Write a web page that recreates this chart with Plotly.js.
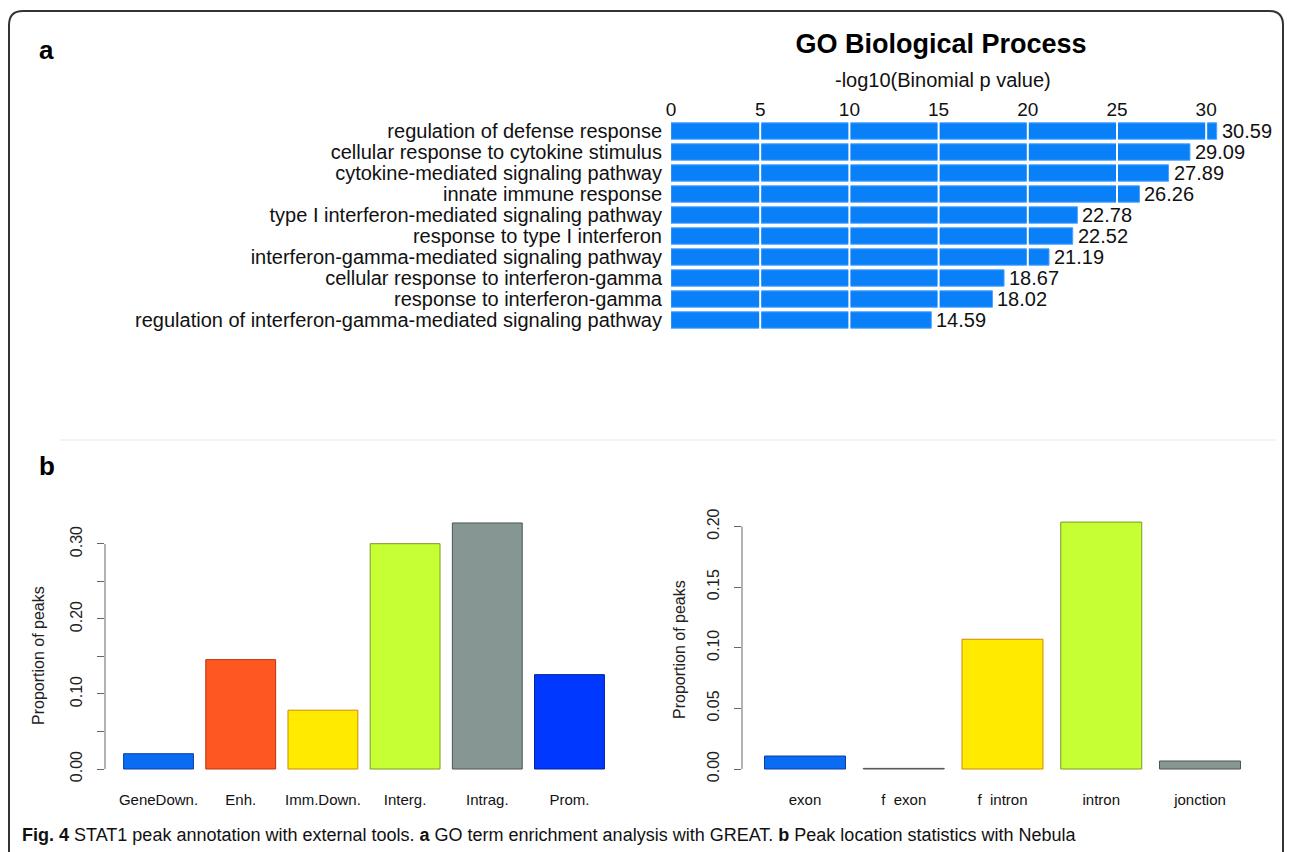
<!DOCTYPE html>
<html>
<head>
<meta charset="utf-8">
<script src="https://cdn.plot.ly/plotly-3.0.1.min.js"></script>
<style>html,body{margin:0;padding:0;background:#fff;}#chart{width:1292px;height:852px;}</style>
</head>
<body>
<div id="chart"></div>
<script>
// ---- Data ----
const goTerms = [
  "regulation of defense response",
  "cellular response to cytokine stimulus",
  "cytokine-mediated signaling pathway",
  "innate immune response",
  "type I interferon-mediated signaling pathway",
  "response to type I interferon",
  "interferon-gamma-mediated signaling pathway",
  "cellular response to interferon-gamma",
  "response to interferon-gamma",
  "regulation of interferon-gamma-mediated signaling pathway"
];
const goValues = [30.59, 29.09, 27.89, 26.26, 22.78, 22.52, 21.19, 18.67, 18.02, 14.59];
const goTicks = [0, 5, 10, 15, 20, 25, 30];

const annotCats = ["GeneDown.", "Enh.", "Imm.Down.", "Interg.", "Intrag.", "Prom."];
const annotValues = [0.0204, 0.1458, 0.0784, 0.3004, 0.3280, 0.1258];
const annotColors = ["#0a6cf2", "#ff5722", "#ffea00", "#c6ff33", "#869692", "#0038ff"];
const annotBorders = ["#0a3fa0", "#b83210", "#d08a00", "#7a9a20", "#4a5553", "#001f99"];
const annotTicks = [0, 0.10, 0.20, 0.30];

const locCats = ["exon", "f\u00a0\u00a0exon", "f\u00a0\u00a0intron", "intron", "jonction"];
const locValues = [0.0107, 0.0005, 0.1070, 0.2036, 0.0066];
const locColors = ["#0a6cf2", "#9aa5a2", "#ffea00", "#c6ff33", "#869692"];
const locBorders = ["#0a3fa0", "#555555", "#d08a00", "#7a9a20", "#4a5553"];
const locTicks = [0, 0.05, 0.10, 0.15, 0.20];

// ---- Layout helpers (pixel -> paper) ----
const W = 1292, H = 852;
const px = x => x / W;
const py = y => 1 - y / H;
const FONT = "Liberation Sans, Arial, Helvetica, sans-serif";

const traces = [
  {
    type: "bar", orientation: "h",
    x: goValues, y: goTerms,
    xaxis: "x", yaxis: "y",
    width: 0.78,
    marker: { color: "#0a80f8", line: { color: "#4aa3ff", width: 1 } },
    hoverinfo: "x+y"
  },
  {
    type: "bar",
    x: annotCats, y: annotValues,
    xaxis: "x2", yaxis: "y2",
    width: 0.85,
    marker: { color: annotColors, line: { color: annotBorders, width: 1 } },
    hoverinfo: "x+y"
  },
  {
    type: "bar",
    x: locCats, y: locValues,
    xaxis: "x3", yaxis: "y3",
    width: 0.82,
    marker: { color: locColors, line: { color: locBorders, width: 1 } },
    hoverinfo: "x+y"
  }
];

const shapes = [];
// white gridlines drawn over the GO bars
goTicks.filter(t => t > 0).forEach(t => {
  shapes.push({ type: "line", xref: "x", yref: "y domain", x0: t, x1: t, y0: 0, y1: 1,
    line: { color: "#ffffff", width: 2 }, layer: "above" });
});
// R-style y axis lines spanning first to last tick
shapes.push({ type: "line", xref: "x2 domain", yref: "y2", x0: 0, x1: 0,
  y0: annotTicks[0], y1: annotTicks[annotTicks.length - 1], line: { color: "#666", width: 1 } });
shapes.push({ type: "line", xref: "x3 domain", yref: "y3", x0: 0, x1: 0,
  y0: locTicks[0], y1: locTicks[locTicks.length - 1], line: { color: "#666", width: 1 } });
// faint separator
shapes.push({ type: "line", xref: "paper", yref: "paper", x0: px(60), x1: px(1275), y0: py(440), y1: py(440),
  line: { color: "#f3f3f3", width: 2 } });
// rounded outer frame
(function () {
  const x0 = 9, x1 = 1283, yt = 11, yb = 870, r = 14;
  const P = (x, y) => px(x).toFixed(5) + "," + py(y).toFixed(5);
  const path = "M" + P(x0, yb) + " L" + P(x0, yt + r) + " Q" + P(x0, yt) + " " + P(x0 + r, yt) +
    " L" + P(x1 - r, yt) + " Q" + P(x1, yt) + " " + P(x1, yt + r) + " L" + P(x1, yb);
  shapes.push({ type: "path", xref: "paper", yref: "paper", path: path,
    line: { color: "#333", width: 2 } });
})();

const annotations = [
  { text: "<b>a</b>", xref: "paper", yref: "paper", x: px(47), y: py(50), showarrow: false,
    font: { size: 26, color: "#000" }, xanchor: "center", yanchor: "middle" },
  { text: "<b>b</b>", xref: "paper", yref: "paper", x: px(47), y: py(466), showarrow: false,
    font: { size: 26, color: "#000" }, xanchor: "center", yanchor: "middle" },
  { text: "-log10(Binomial p value)", xref: "paper", yref: "paper", x: px(943), y: py(80), showarrow: false,
    font: { size: 20, color: "#111" }, xanchor: "center", yanchor: "middle" },
  { text: "Proportion of peaks", xref: "paper", yref: "paper", x: px(38), y: py(656), textangle: -90,
    showarrow: false, font: { size: 16, color: "#222" }, xanchor: "center", yanchor: "middle" },
  { text: "Proportion of peaks", xref: "paper", yref: "paper", x: px(679), y: py(650), textangle: -90,
    showarrow: false, font: { size: 16, color: "#222" }, xanchor: "center", yanchor: "middle" },
  { text: "<b>Fig. 4</b> STAT1 peak annotation with external tools. <b>a</b> GO term enrichment analysis with GREAT. <b>b</b> Peak location statistics with Nebula",
    xref: "paper", yref: "paper", x: px(20), y: py(835), xanchor: "left", yanchor: "middle",
    showarrow: false, font: { size: 18, color: "#111", family: "Liberation Sans Narrow, Arial Narrow, sans-serif" } }
];
// value labels at the end of each GO bar (placed through the axes)
goValues.forEach((v, i) => {
  annotations.push({ text: v.toFixed(2), xref: "x", yref: "y", x: v, y: goTerms[i],
    xanchor: "left", yanchor: "middle", xshift: 3, showarrow: false,
    font: { size: 20, color: "#111" } });
});

const tickCommon = { showgrid: false, zeroline: false, showline: false };

const layout = {
  width: W, height: H,
  margin: { l: 0, r: 0, t: 0, b: 0 },
  paper_bgcolor: "#ffffff",
  plot_bgcolor: "rgba(0,0,0,0)",
  showlegend: false,
  font: { family: FONT, color: "#111" },
  title: {
    text: "<b>GO Biological Process</b>",
    font: { size: 27, family: FONT, color: "#000" },
    x: px(941), xref: "paper", xanchor: "center",
    y: py(44), yref: "container", yanchor: "middle"
  },
  xaxis: Object.assign({}, tickCommon, {
    domain: [px(671), px(1282)], range: [0, 34.25], anchor: "y", side: "top",
    tickvals: goTicks, ticks: "", tickfont: { size: 19, color: "#111" }
  }),
  yaxis: Object.assign({}, tickCommon, {
    domain: [py(330.5), py(120.5)], type: "category", range: [9.5, -0.5], anchor: "x",
    tickmode: "array", tickvals: goTerms, ticktext: goTerms,
    ticks: "", ticklabelstandoff: 8, tickfont: { size: 20, color: "#111" }
  }),
  xaxis2: Object.assign({}, tickCommon, {
    domain: [px(105), px(623)], type: "category", range: [-0.651, 5.651], anchor: "y2",
    ticks: "", ticklabelstandoff: 10, tickfont: { size: 15, color: "#111" }
  }),
  yaxis2: Object.assign({}, tickCommon, {
    domain: [py(779), py(513)], range: [-0.01333, 0.3413], anchor: "x2",
    tickvals: annotTicks, tickformat: ".2f", ticks: "outside", ticklen: 7, tickcolor: "#666",
    tickangle: -90, ticklabelstandoff: 9, tickfont: { size: 16, color: "#222" },
    minor: { dtick: 0.05, tick0: 0, ticks: "outside", ticklen: 7, tickcolor: "#666", showgrid: false }
  }),
  xaxis3: Object.assign({}, tickCommon, {
    domain: [px(742), px(1263)], type: "category", range: [-0.638, 4.638], anchor: "y3",
    ticks: "", ticklabelstandoff: 10, tickfont: { size: 15, color: "#111" }
  }),
  yaxis3: Object.assign({}, tickCommon, {
    domain: [py(779), py(513)], range: [-0.00825, 0.2111], anchor: "x3",
    tickvals: locTicks, tickformat: ".2f", ticks: "outside", ticklen: 7, tickcolor: "#666",
    tickangle: -90, ticklabelstandoff: 9, tickfont: { size: 16, color: "#222" }
  }),
  shapes: shapes,
  annotations: annotations
};

Plotly.newPlot("chart", traces, layout, { displayModeBar: false });
</script>
</body>
</html>
